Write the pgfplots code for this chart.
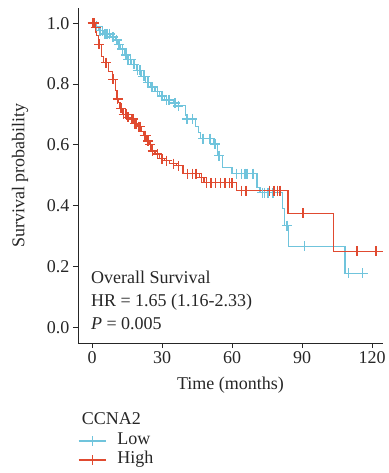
\documentclass[border=0pt]{standalone}
\usepackage{fontspec}
\setmainfont{Liberation Serif}
\usepackage{pgfplots}
\usetikzlibrary{calc}
\pgfplotsset{compat=1.18}
\definecolor{cblue}{RGB}{112,196,220}
\definecolor{cred}{RGB}{224,74,48}
\newcommand{\fs}{\fontsize{18}{21}\selectfont}
\begin{document}
\begin{tikzpicture}
\begin{axis}[
  name=ax,
  scale only axis,
  width=305pt, height=335pt,
  xmin=-6, xmax=124.7, ymin=-0.052, ymax=1.05,
  axis lines=left,
  axis line style={-, line width=0.9pt, black!85},
  tick align=outside,
  major tick length=5pt,
  tick style={line width=0.9pt, black!85},
  xtick={0,30,60,90,120},
  ytick={0,0.2,0.4,0.6,0.8,1.0},
  yticklabel style={/pgf/number format/fixed, /pgf/number format/fixed zerofill, /pgf/number format/precision=1},
  /pgf/number format/assume math mode=true,
  tick label style={font=\fs, text=black!85},
  label style={font=\fs, text=black!85},
  xlabel={Time (months)},
  ylabel={Survival probability},
  ylabel style={at={(axis description cs:-0.19,0.5)}, anchor=center},
  xlabel style={at={(axis description cs:0.5,-0.125)}, anchor=center},
  legend style={at={(axis description cs:0.0,-0.268)}, anchor=north west, draw=none, fill=none, font=\fs, text=black!85, inner sep=0pt, row sep=3pt, nodes={inner sep=0pt, text height=12pt, text depth=4pt}},
  legend cell align=left,
  clip=false,
]
% Low (blue)
\addplot[const plot, cblue, line width=1.1pt, forget plot] coordinates {
(0,1.0) (1,0.99) (3,0.975) (5,0.965) (8,0.955) (10,0.945) (11,0.93) (12,0.915)
(14,0.895) (15,0.88) (17,0.865) (19,0.845) (21,0.825) (23,0.805) (25,0.79)
(27,0.775) (29,0.76) (31,0.748) (35,0.738) (37,0.728) (40,0.695) (41,0.685)
(44.5,0.66) (45.5,0.64) (46.5,0.62) (52,0.603) (53.6,0.564) (56,0.525) (60,0.505)
(70.7,0.459) (72,0.443) (81.6,0.39) (82.3,0.334) (84.3,0.266) (108.4,0.177) (117,0.177)};
\addplot[only marks, mark=+, mark size=5pt, cblue, line width=1.4pt, forget plot] coordinates {
(2,0.99) (3.5,0.975) (4.5,0.975) (5.5,0.965) (6.5,0.965) (7.5,0.965) (9,0.955)
(10.5,0.945) (11.5,0.93) (13,0.915) (14.5,0.895) (15.5,0.88) (16.5,0.88) (18,0.865)
(19.5,0.845) (20.5,0.845) (22,0.825) (22.5,0.825) (24,0.805) (25.5,0.79) (26,0.79)
(28,0.775) (30,0.76) (32,0.748) (33,0.748) (35.6,0.738) (37,0.728)
(40.7,0.685) (43,0.685) (47.6,0.62) (50.6,0.62) (52.7,0.603) (54.5,0.564) (62,0.505) (64,0.505)
(65.6,0.505) (66.4,0.505) (69,0.505) (73,0.443) (74,0.443) (75.5,0.443) (77.5,0.443)
(83.5,0.334) (91,0.266) (110,0.177) (116,0.177)};
% High (red)
\addplot[const plot, cred, line width=1.1pt, forget plot] coordinates {
(0,1.0) (1,0.985) (2,0.96) (2.6,0.93) (4,0.89) (5,0.87) (7,0.84) (8.6,0.815)
(10,0.78) (10.7,0.75) (11.5,0.738) (12,0.72) (13.3,0.70) (15,0.69) (16.3,0.685)
(18,0.67) (19.7,0.66) (21,0.645) (22,0.63) (23.5,0.613) (24.5,0.60) (25.7,0.58)
(27,0.57) (29,0.554) (31,0.548) (33.4,0.538) (36.4,0.531) (39,0.505) (46,0.492)
(48,0.475) (62,0.449) (84,0.374) (103.4,0.249) (124.7,0.249)};
\addplot[only marks, mark=+, mark size=5pt, cred, line width=1.4pt, forget plot] coordinates {
(0.3,1.0) (0.8,1.0) (1.5,0.985) (3,0.93) (6,0.87) (9,0.815) (11,0.75) (12.5,0.72)
(13.5,0.70) (14.5,0.70) (15.5,0.69) (16.8,0.685) (17.5,0.685) (18.5,0.67) (19,0.67)
(20,0.66) (20.5,0.66) (22.5,0.63) (23,0.63) (24,0.613) (25,0.60) (26,0.58) (28,0.57)
(30,0.554) (32,0.548) (35,0.538) (37,0.531) (41,0.505) (43,0.505) (44.5,0.505)
(47,0.492) (49,0.475) (51,0.475) (53,0.475) (55,0.475) (57,0.475) (59,0.475) (60,0.475)
(64,0.449) (66,0.449) (76,0.449) (78,0.449) (79.5,0.449) (80.5,0.449)
(90.5,0.374) (113.6,0.249) (121.7,0.249)};
\addlegendimage{legend image code/.code={\draw[cblue, line width=1.1pt] (0pt,0pt) -- (27pt,0pt); \draw[cblue, line width=1.4pt] (13.5pt,-5pt) -- (13.5pt,5pt) (8.5pt,0pt) -- (18.5pt,0pt);}}
\addlegendentry{\hspace{11pt}Low}
\addlegendimage{legend image code/.code={\draw[cred, line width=1.1pt] (0pt,0pt) -- (27pt,0pt); \draw[cred, line width=1.4pt] (13.5pt,-5pt) -- (13.5pt,5pt) (8.5pt,0pt) -- (18.5pt,0pt);}}
\addlegendentry{\hspace{11pt}High}
\node[anchor=mid west, font=\fs, text=black!85, inner sep=0pt] at (axis cs:-0.5,0.151) {Overall Survival};
\node[anchor=mid west, font=\fs, text=black!85, inner sep=0pt] at (axis cs:-0.5,0.075) {HR = 1.65 (1.16-2.33)};
\node[anchor=mid west, font=\fs, text=black!85, inner sep=0pt] at (axis cs:-0.5,0.0) {\textit{P} = 0.005};
\node[anchor=mid west, font=\fs, text=black!85, inner sep=0pt] at (axis description cs:0.012,-0.236) {CCNA2};
\end{axis}
\path (ax.south west) ++(-78pt,-130pt) rectangle ($(ax.south west)+(305pt,343pt)$);
\end{tikzpicture}
\end{document}
